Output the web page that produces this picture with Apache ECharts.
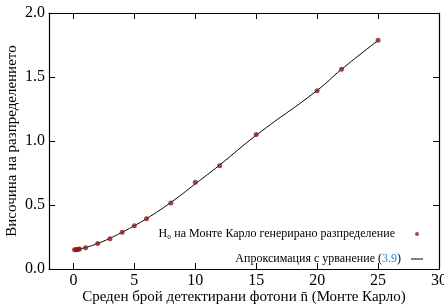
<!DOCTYPE html>
<html>
<head>
<meta charset="utf-8">
<script src="https://cdn.jsdelivr.net/npm/echarts@6/dist/echarts.min.js"></script>
<style>
  html, body { margin: 0; padding: 0; background: #fff; }
  #chart { width: 444px; height: 307px; }
</style>
</head>
<body>
<div id="chart"></div>
<script>
// Monte Carlo points
const mcX = [0.1, 0.2, 0.3, 0.4, 0.5, 1, 2, 3, 4, 5, 6, 8, 10, 12, 15, 20, 22, 25];
const mcY = [0.150, 0.151, 0.153, 0.155, 0.157, 0.166, 0.200, 0.237, 0.287, 0.338, 0.393, 0.515, 0.677, 0.807, 1.050, 1.393, 1.560, 1.787];

// fitted curve
const fitX = [0.1, 1, 2, 3, 4, 5, 6, 8, 10, 12, 15, 20, 22, 25];
const fitY = [0.150, 0.168, 0.200, 0.240, 0.287, 0.338, 0.393, 0.520, 0.665, 0.812, 1.045, 1.395, 1.560, 1.785];

const xTicks = [0, 5, 10, 15, 20, 25, 30];
const yTicks = [0, 0.5, 1, 1.5, 2];

const nameMC = "H₀ на Монте Карло генерирано разпределение";
const nameFit = "Апроксимация с урванение (3.9)";

const font = "Liberation Serif";
const chart = echarts.init(document.getElementById("chart"));

// shared axis look
const xBase = {
  type: "value",
  min: -2,
  max: 30,
  axisLine: { show: true, onZero: false, lineStyle: { color: "#000", width: 1.2 } },
  axisTick: { show: true, inside: true, length: 6, customValues: xTicks, lineStyle: { color: "#000" } },
  splitLine: { show: false },
};
const yBase = {
  type: "value",
  min: 0,
  max: 2,
  axisLine: { show: true, onZero: false, lineStyle: { color: "#000", width: 1.2 } },
  axisTick: { show: true, inside: true, length: 6, customValues: yTicks, lineStyle: { color: "#000" } },
  splitLine: { show: false },
};

const legendText = { fontFamily: font, fontSize: 12, color: "#000" };

chart.setOption({
  animation: false,
  textStyle: { fontFamily: font },
  grid: { left: 49, right: 5, top: 13, bottom: 38, outerBoundsMode: "none" },
  xAxis: [
    {
      ...xBase,
      position: "bottom",
      name: "Среден брой детектирани фотони n̄ (Монте Карло)",
      nameLocation: "middle",
      nameGap: 21,
      nameMoveOverlap: false,
      nameTextStyle: { fontFamily: font, fontSize: 15, color: "#000" },
      axisLabel: {
        customValues: xTicks,
        margin: 4,
        fontFamily: font,
        fontSize: 16,
        color: "#000",
      },
    },
    { ...xBase, position: "top", axisLabel: { show: false } },
  ],
  yAxis: [
    {
      ...yBase,
      position: "left",
      name: "Височина на разпределението",
      nameLocation: "middle",
      nameGap: 29,
      nameMoveOverlap: false,
      nameTextStyle: { fontFamily: font, fontSize: 15, color: "#000" },
      axisLabel: {
        customValues: yTicks,
        margin: 4,
        fontFamily: font,
        fontSize: 16,
        color: "#000",
        formatter: (v) => v.toFixed(1),
      },
    },
    { ...yBase, position: "right", axisLabel: { show: false } },
  ],
  legend: [
    {
      data: [{ name: nameMC, icon: "circle" }],
      right: 20,
      top: 223,
      align: "right",
      itemWidth: 4,
      itemHeight: 4,
      textStyle: { ...legendText, padding: [0, 15, 0, 0] },
    },
    {
      data: [{ name: nameFit, icon: "rect" }],
      right: 16,
      top: 248,
      align: "right",
      itemWidth: 12,
      itemHeight: 1,
      formatter: () => "{a|Апроксимация с урванение (}{b|3.9}{a|)}",
      textStyle: {
        ...legendText,
        padding: [0, 5, 0, 0],
        rich: {
          a: { ...legendText },
          b: { ...legendText, color: "#2a7fd0" },
        },
      },
    },
  ],
  series: [
    {
      name: nameFit,
      type: "line",
      data: fitX.map((x, i) => [x, fitY[i]]),
      smooth: true,
      showSymbol: false,
      lineStyle: { color: "#000", width: 1 },
      itemStyle: { color: "#000" },
      z: 2,
    },
    {
      name: nameMC,
      type: "scatter",
      data: mcX.map((x, i) => [x, mcY[i]]),
      symbolSize: 5,
      itemStyle: { color: "#8b1a1a" },
      z: 3,
    },
  ],
});
</script>
</body>
</html>
